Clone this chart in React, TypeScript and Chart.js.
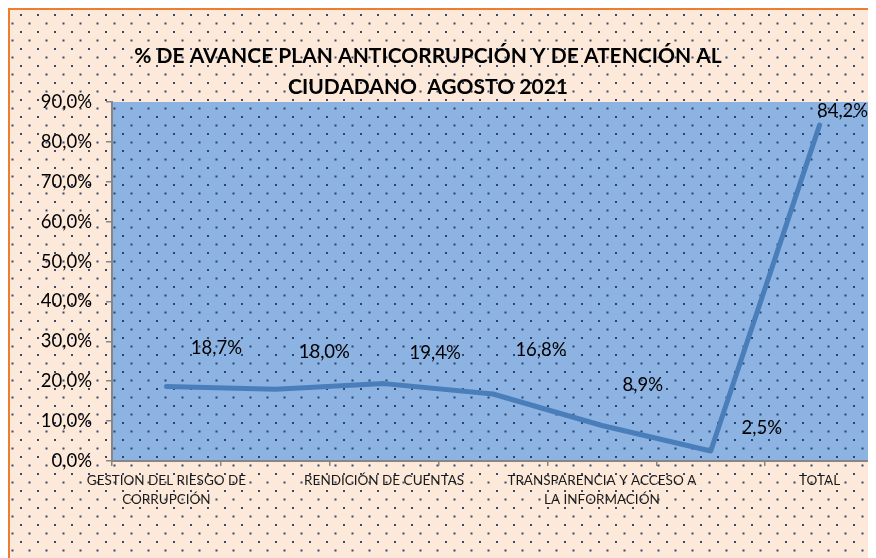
import { useEffect, useRef } from "react";
import { Chart, registerables } from "chart.js";

Chart.register(...registerables);

// ---- data ----
const categories = [
  "GESTION DEL RIESGO DE CORRUPCIÓN",
  "RACIONALIZACIÓN DE TRÁMITES",
  "RENDICIÓN DE CUENTAS",
  "MECANISMOS PARA MEJORAR LA ATENCIÓN AL CIUDADANO",
  "TRANSPARENCIA Y ACCESO A LA INFORMACIÓN",
  "INICIATIVAS ADICIONALES",
  "TOTAL",
];
const tickLabels: (string | string[])[] = [
  ["GESTION DEL RIESGO DE", "CORRUPCIÓN"],
  "",
  ["RENDICIÓN DE CUENTAS"],
  "",
  ["TRANSPARENCIA Y ACCESO A", "LA INFORMACIÓN"],
  "",
  ["TOTAL"],
];
const avance = [18.7, 18.0, 19.4, 16.8, 8.9, 2.5, 84.2];
const yMin = 0;
const yMax = 90;
const yStep = 10;
const titleLines = [
  "% DE AVANCE PLAN ANTICORRUPCIÓN Y DE ATENCIÓN AL",
  "CIUDADANO  AGOSTO 2021",
];

// ---- styling ----
const labelOffsets = [
  [50, -38],
  [49, -37],
  [51, -31],
  [48, -44],
  [41, -40],
  [51, -23],
  [23, -14],
];
const FONT = "Lato, 'Open Sans', sans-serif";
const W = 868;
const H = 550;

const fmt = (v: number) => v.toFixed(1).replace(".", ",") + "%";

function makePattern(ctx: CanvasRenderingContext2D, bg: string, dot: string) {
  const c = document.createElement("canvas");
  c.width = 17;
  c.height = 17;
  const g = c.getContext("2d")!;
  g.fillStyle = bg;
  g.fillRect(0, 0, 17, 17);
  g.fillStyle = dot;
  g.fillRect(12, 6, 2, 2);
  g.fillRect(3.5, 14.5, 2, 2);
  return ctx.createPattern(c, "repeat")!;
}

export default function App() {
  const ref = useRef<HTMLCanvasElement | null>(null);

  useEffect(() => {
    document.documentElement.style.overflow = "hidden";
    document.body.style.overflow = "hidden";
    const canvas = ref.current!;
    const ctx = canvas.getContext("2d")!;
    const bgPattern = makePattern(ctx, "#FDE9D9", "rgba(31,56,100,0.9)");
    const plotPattern = makePattern(ctx, "#8DB3E2", "rgba(31,56,100,0.9)");

    const decor = {
      id: "decor",
      beforeDraw(chart: any) {
        const c = chart.ctx;
        const a = chart.chartArea;
        c.save();
        c.fillStyle = bgPattern;
        c.fillRect(0, 0, chart.width, chart.height);
        c.fillStyle = plotPattern;
        c.fillRect(a.left, a.top, a.right - a.left, a.bottom - a.top);
        c.fillStyle = "#ED7D31";
        c.fillRect(0, 0, chart.width, 2);
        c.fillRect(0, 0, 2, chart.height);
        c.fillStyle = "#000";
        c.font = `bold 21px ${FONT}`;
        c.textAlign = "center";
        c.textBaseline = "middle";
        c.fillText(titleLines[0], 420, 48);
        c.fillText(titleLines[1], 420, 79);
        c.restore();
      },
      afterDatasetsDraw(chart: any) {
        const c = chart.ctx;
        const meta = chart.getDatasetMeta(0);
        c.save();
        c.fillStyle = "#000";
        c.font = `18.5px ${FONT}`;
        c.textAlign = "center";
        c.textBaseline = "middle";
        meta.data.forEach((p: any, i: number) => {
          const [dx, dy] = labelOffsets[i];
          c.fillText(fmt(avance[i]), p.x + dx, p.y + dy);
        });
        c.restore();
      },
    };

    const chart = new Chart(canvas, {
      type: "line",
      data: {
        labels: categories,
        datasets: [
          {
            data: avance,
            borderColor: "#4A7EBB",
            borderWidth: 5,
            borderJoinStyle: "round",
            borderCapStyle: "round",
            pointRadius: 0,
            tension: 0,
            fill: false,
          },
        ],
      },
      options: {
        responsive: false,
        animation: false,
        layout: { padding: { top: 94, right: 2, left: 0, bottom: 0 } },
        plugins: {
          legend: { display: false },
          title: { display: false },
          tooltip: { enabled: false },
        },
        scales: {
          x: {
            type: "category",
            offset: true,
            grid: {
              display: true,
              offset: true,
              drawOnChartArea: false,
              drawTicks: true,
              tickLength: 5,
              color: "#868686",
              lineWidth: 1.5,
            },
            border: { display: true, color: "#868686", width: 2 },
            ticks: {
              autoSkip: false,
              maxRotation: 0,
              minRotation: 0,
              padding: 5,
              color: "#1a1a1a",
              font: { family: FONT, size: 13.5, lineHeight: 1.42 },
              callback: (_v: any, i: number) => tickLabels[i],
            },
            afterFit: (s: any) => {
              s.height = 97;
            },
          },
          y: {
            min: yMin,
            max: yMax,
            grid: {
              display: true,
              drawOnChartArea: false,
              drawTicks: true,
              tickLength: 6,
              color: "#868686",
              lineWidth: 1.5,
            },
            border: { display: true, color: "#868686", width: 2 },
            ticks: {
              stepSize: yStep,
              padding: 14,
              color: "#000",
              font: { family: FONT, size: 18.5 },
              callback: (v: any) => fmt(Number(v)),
            },
            afterFit: (s: any) => {
              s.width = 104;
            },
          },
        },
      },
      plugins: [decor],
    } as any);

    return () => chart.destroy();
  }, []);

  return (
    <div style={{ width: W, height: H }}>
      <canvas ref={ref} width={W} height={H} style={{ display: "block" }} />
    </div>
  );
}
